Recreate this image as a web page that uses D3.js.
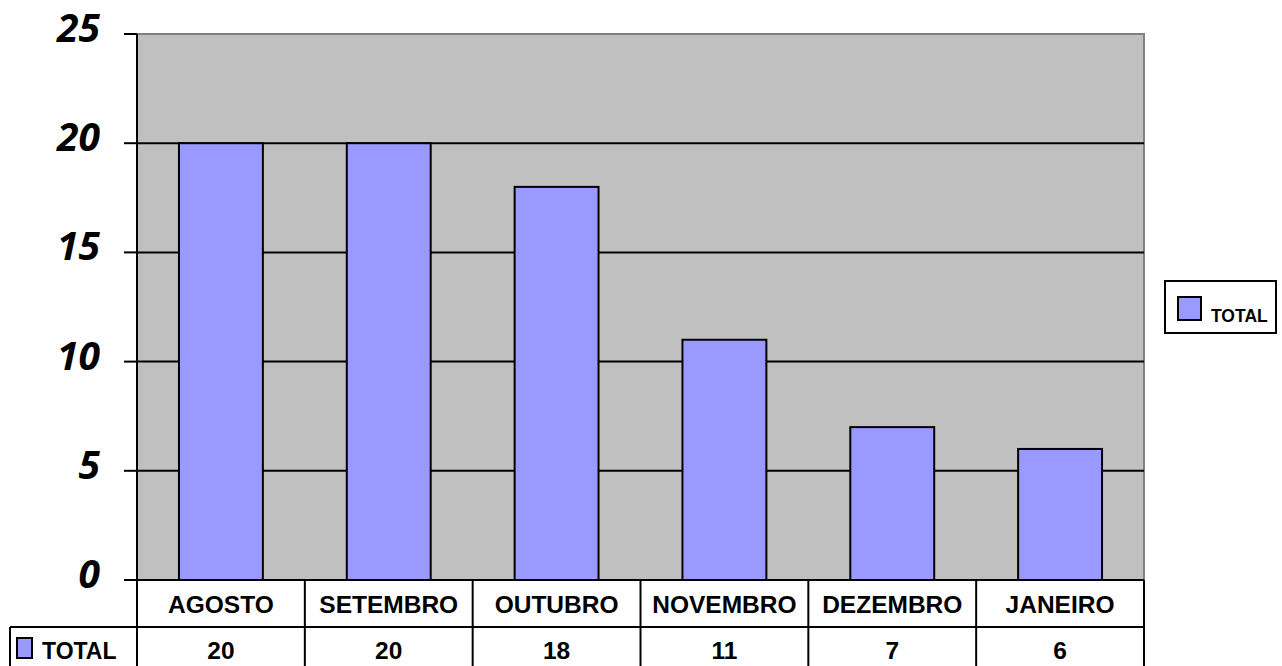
<!DOCTYPE html>
<meta charset="utf-8">
<head>
  <title>TOTAL por mês</title>
</head>
<style>
body { margin: 0; background: white; }
text { font-family: "Liberation Sans", Arial, sans-serif; font-weight: bold; fill: black; }
.ylab { font-family: "Open Sans", sans-serif; font-style: italic; font-size: 39px; }
</style>
<body>
<svg width="1282" height="666"></svg>
<script src="https://cdnjs.cloudflare.com/ajax/libs/d3/7.8.5/d3.min.js"></script>
<script>
var months = ["AGOSTO", "SETEMBRO", "OUTUBRO", "NOVEMBRO", "DEZEMBRO", "JANEIRO"];
var totals = [20, 20, 18, 11, 7, 6];
var yTicks = [0, 5, 10, 15, 20, 25];
var seriesName = "TOTAL";

var svg = d3.select("svg");
// note: "top" is taken by window.top, so use other names
var plotLeft = 137, plotRight = 1144, plotTop = 34, plotBottom = 580;

var x = d3.scaleBand().domain(months).range([plotLeft, plotRight]).paddingInner(0.5).paddingOuter(0.25);
var xCol = d3.scaleBand().domain(months).range([plotLeft, plotRight]);
var y = d3.scaleLinear().domain([0, 25]).range([plotBottom, plotTop]);

// plot background
svg.append("rect")
  .attr("x", plotLeft).attr("y", plotTop)
  .attr("width", plotRight - plotLeft).attr("height", plotBottom - plotTop)
  .attr("fill", "#c0c0c0")
  .attr("stroke", "#808080").attr("stroke-width", 2);

// gridlines
svg.selectAll(".grid")
  .data(yTicks.filter(function(d) { return d > 0 && d < 25; }))
  .enter().append("line")
  .attr("x1", plotLeft).attr("x2", plotRight)
  .attr("y1", function(d) { return y(d); }).attr("y2", function(d) { return y(d); })
  .attr("stroke", "black").attr("stroke-width", 2);

// bars
svg.selectAll(".bar")
  .data(totals)
  .enter().append("rect")
  .attr("x", function(d, i) { return x(months[i]); })
  .attr("y", function(d) { return y(d); })
  .attr("width", x.bandwidth())
  .attr("height", function(d) { return y(0) - y(d); })
  .attr("fill", "#9999ff")
  .attr("stroke", "black").attr("stroke-width", 2);

// y axis
svg.append("line")
  .attr("x1", plotLeft).attr("x2", plotLeft).attr("y1", plotTop).attr("y2", plotBottom)
  .attr("stroke", "black").attr("stroke-width", 2);
svg.selectAll(".tick")
  .data(yTicks)
  .enter().append("line")
  .attr("x1", 124).attr("x2", plotLeft)
  .attr("y1", function(d) { return y(d); }).attr("y2", function(d) { return y(d); })
  .attr("stroke", "black").attr("stroke-width", 2);
svg.selectAll(".ylab")
  .data(yTicks)
  .enter().append("text")
  .attr("class", "ylab")
  .attr("x", 100)
  .attr("y", function(d) { return y(d) + 8; })
  .attr("text-anchor", "end")
  .text(function(d) { return d; });

// data table
var rowTop = 627, tableBottom = 672;
svg.append("line").attr("x1", plotLeft).attr("x2", plotRight).attr("y1", plotBottom).attr("y2", plotBottom)
  .attr("stroke", "black").attr("stroke-width", 2);
svg.append("line").attr("x1", 10).attr("x2", plotRight).attr("y1", rowTop).attr("y2", rowTop)
  .attr("stroke", "black").attr("stroke-width", 2);
svg.append("line").attr("x1", 10).attr("x2", 10).attr("y1", rowTop).attr("y2", tableBottom)
  .attr("stroke", "black").attr("stroke-width", 2);
svg.selectAll(".col")
  .data(months.concat(["end"]))
  .enter().append("line")
  .attr("x1", function(d, i) { return i < months.length ? xCol(d) : plotRight; })
  .attr("x2", function(d, i) { return i < months.length ? xCol(d) : plotRight; })
  .attr("y1", plotBottom).attr("y2", tableBottom)
  .attr("stroke", "black").attr("stroke-width", 2);

svg.selectAll(".mlab")
  .data(months)
  .enter().append("text")
  .attr("x", function(d) { return xCol(d) + xCol.bandwidth() / 2; })
  .attr("y", 613)
  .attr("text-anchor", "middle")
  .attr("font-size", "24.5px")
  .text(function(d) { return d; });

svg.selectAll(".vlab")
  .data(totals)
  .enter().append("text")
  .attr("x", function(d, i) { return xCol(months[i]) + xCol.bandwidth() / 2; })
  .attr("y", 659)
  .attr("text-anchor", "middle")
  .attr("font-size", "24.5px")
  .text(function(d) { return d; });

svg.append("rect")
  .attr("x", 17).attr("y", 638).attr("width", 15).attr("height", 20)
  .attr("fill", "#9999ff").attr("stroke", "black").attr("stroke-width", 2);
svg.append("text")
  .attr("x", 42).attr("y", 659)
  .attr("font-size", "23px")
  .text(seriesName);

// legend
svg.append("rect")
  .attr("x", 1165).attr("y", 281).attr("width", 111).attr("height", 52)
  .attr("fill", "white").attr("stroke", "black").attr("stroke-width", 2);
svg.append("rect")
  .attr("x", 1178).attr("y", 297).attr("width", 23).attr("height", 23)
  .attr("fill", "#9999ff").attr("stroke", "black").attr("stroke-width", 2);
svg.append("text")
  .attr("x", 1211).attr("y", 322)
  .attr("font-family", "'Open Sans', sans-serif")
  .attr("font-size", "17.5px")
  .text(seriesName);
</script>
</body>
</html>
